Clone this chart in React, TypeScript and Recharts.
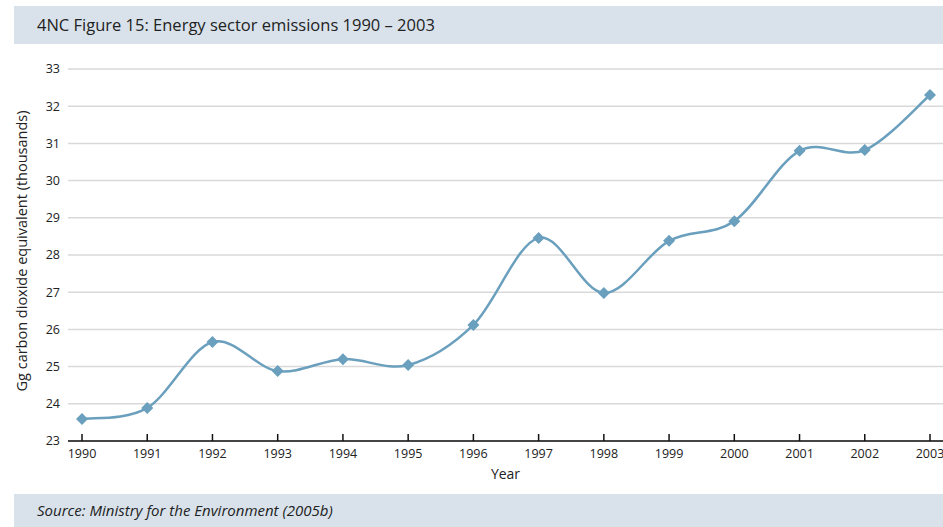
import { LineChart, Line, XAxis, YAxis, CartesianGrid } from "recharts";

const years = [1990, 1991, 1992, 1993, 1994, 1995, 1996, 1997, 1998, 1999, 2000, 2001, 2002, 2003];
const emissions = [23.59, 23.89, 25.66, 24.88, 25.2, 25.04, 26.12, 28.46, 26.98, 28.38, 28.91, 30.8, 30.82, 32.3];
const yTicks = [23, 24, 25, 26, 27, 28, 29, 30, 31, 32, 33];

const LINE = "#6a9fbd";
const BAR = "#d9e2eb";
const FONT = "'Open Sans', 'Noto Sans', sans-serif";

const data = years.map((year, i) => ({ year, value: emissions[i] }));

// Excel-style smoothed line (uniform Catmull-Rom as cubic beziers)
function smoothCurve(context: any) {
  let pts: [number, number][] = [];
  return {
    areaStart() {},
    areaEnd() {},
    lineStart() {
      pts = [];
    },
    lineEnd() {
      if (!pts.length) return;
      context.moveTo(pts[0][0], pts[0][1]);
      for (let i = 0; i < pts.length - 1; i++) {
        const p0 = pts[i - 1] || pts[i];
        const p1 = pts[i];
        const p2 = pts[i + 1];
        const p3 = pts[i + 2] || p2;
        context.bezierCurveTo(
          p1[0] + (p2[0] - p0[0]) / 6,
          p1[1] + (p2[1] - p0[1]) / 6,
          p2[0] - (p3[0] - p1[0]) / 6,
          p2[1] - (p3[1] - p1[1]) / 6,
          p2[0],
          p2[1]
        );
      }
    },
    point(x: number, y: number) {
      pts.push([+x, +y]);
    },
  };
}

const Diamond = (props: any) => {
  const { cx, cy, index } = props;
  if (cx == null || cy == null) return null;
  const r = 6;
  return (
    <polygon
      key={`d-${index}`}
      points={`${cx},${cy - r} ${cx + r},${cy} ${cx},${cy + r} ${cx - r},${cy}`}
      fill={LINE}
    />
  );
};

export default function App() {
  return (
    <div style={{ position: "absolute", left: 0, top: 0, width: 943, height: 527, background: "#fff", fontFamily: FONT }}>
      <div
        style={{
          position: "absolute",
          left: 14,
          top: 6,
          width: 929,
          height: 38,
          background: BAR,
          color: "#222",
          fontSize: 16.5,
          lineHeight: "38px",
          paddingLeft: 23,
          boxSizing: "border-box",
        }}
      >
        4NC Figure 15: Energy sector emissions 1990 – 2003
      </div>

      <div style={{ position: "absolute", left: 0, top: 0 }}>
        <LineChart width={943} height={494} data={data} margin={{ top: 69, right: 0, bottom: 13, left: 0 }}>
          <CartesianGrid horizontal vertical={false} stroke="#d9d9d9" strokeWidth={1.5} />
          <XAxis
            dataKey="year"
            type="number"
            domain={[1990, 2003]}
            ticks={years}
            padding={{ left: 14, right: 13 }}
            height={40}
            axisLine={{ stroke: "#111", strokeWidth: 1.5 }}
            tickLine={{ stroke: "#111", strokeWidth: 1.5 }}
            tickSize={-7}
            tickMargin={15}
            tick={{ fill: "#222", fontSize: 12.5, fontFamily: FONT }}
            label={{ value: "Year", position: "insideBottom", offset: 2, fill: "#222", fontSize: 14, fontFamily: FONT }}
          />
          <YAxis
            type="number"
            domain={[23, 33]}
            ticks={yTicks}
            width={68}
            axisLine={false}
            tickLine={false}
            tickMargin={2}
            tick={{ fill: "#222", fontSize: 12.5, fontFamily: FONT }}
            label={{
              value: "Gg carbon dioxide equivalent (thousands)",
              angle: -90,
              position: "center",
              dx: -12,
              dy: -4,
              fill: "#222",
              fontSize: 14.5,
              fontFamily: FONT,
            }}
          />
          <Line
            dataKey="value"
            type={smoothCurve as any}
            stroke={LINE}
            strokeWidth={2.5}
            dot={<Diamond />}
            activeDot={false}
            isAnimationActive={false}
          />
        </LineChart>
      </div>

      <div
        style={{
          position: "absolute",
          left: 14,
          top: 494,
          width: 929,
          height: 33,
          background: BAR,
          color: "#222",
          fontSize: 15,
          fontStyle: "italic",
          lineHeight: "33px",
          paddingLeft: 23,
          boxSizing: "border-box",
        }}
      >
        Source: Ministry for the Environment (2005b)
      </div>
    </div>
  );
}
